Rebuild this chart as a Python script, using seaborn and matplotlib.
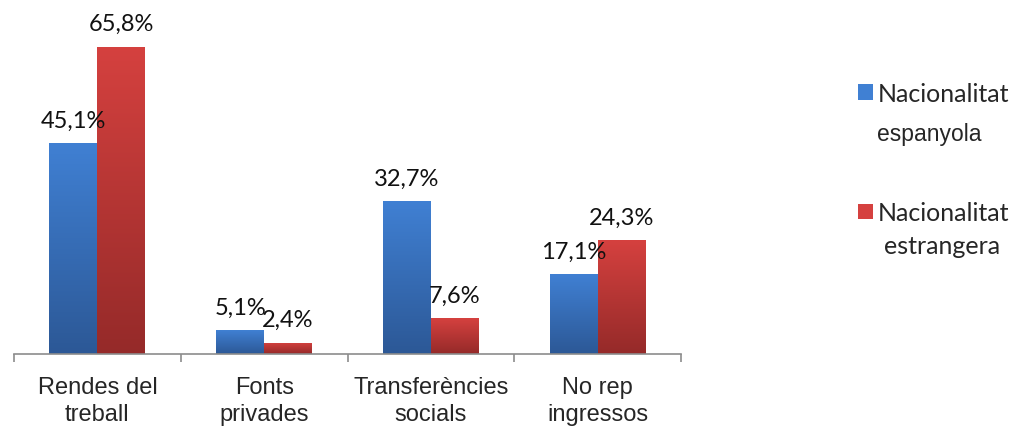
import numpy as np
import pandas as pd
import matplotlib
matplotlib.use('Agg')
import matplotlib.pyplot as plt
import seaborn as sns
from matplotlib.colors import LinearSegmentedColormap
from matplotlib.patches import Patch

# Data
categories = ['Rendes del\ntreball', 'Fonts\nprivades', 'Transferències\nsocials', 'No rep\ningressos']
series = ['Nacionalitat espanyola', 'Nacionalitat estrangera']
espanyola = [45.1, 5.1, 32.7, 17.1]
estrangera = [65.8, 2.4, 7.6, 24.3]
value_labels_esp = ['45,1%', '5,1%', '32,7%', '17,1%']
value_labels_est = ['65,8%', '2,4%', '7,6%', '24,3%']

df = pd.DataFrame({
    'categoria': categories * 2,
    'grup': [series[0]] * 4 + [series[1]] * 4,
    'valor': espanyola + estrangera,
    'etiqueta': value_labels_esp + value_labels_est,
})

sns.set_style('white')
plt.rcParams['font.family'] = ['Liberation Sans', 'DejaVu Sans']

fig = plt.figure(figsize=(10.21, 4.35), dpi=100)
ax = fig.add_axes([14 / 1021, 80 / 435, 667 / 1021, 327 / 435])

blue_top, blue_bot = '#4080d3', '#2c5896'
red_top, red_bot = '#d5413f', '#952a29'

sns.barplot(data=df, x='categoria', y='valor', hue='grup', order=categories,
            hue_order=series, palette=[blue_top, red_top], width=0.575,
            gap=0, legend=False, ax=ax, saturation=1)

# Gradient fill on each bar
cmaps = [LinearSegmentedColormap.from_list('b', [blue_bot, blue_top]),
         LinearSegmentedColormap.from_list('r', [red_bot, red_top])]
grad = np.linspace(0, 1, 256).reshape(-1, 1)
for i, bar in enumerate(ax.patches):
    x0, y0 = bar.get_x(), bar.get_y()
    w, h = bar.get_width(), bar.get_height()
    im = ax.imshow(grad, extent=[x0, x0 + w, y0, y0 + h], origin='lower',
                   cmap=cmaps[0] if i < 4 else cmaps[1], aspect='auto',
                   zorder=bar.get_zorder() + 0.1)
    im.set_clip_path(bar)
    bar.set_edgecolor('none')
ax.set_xlim(-0.5, 3.5)
ax.set_ylim(0, 70)

# Value labels
for i, bar in enumerate(ax.patches):
    lab = df['etiqueta'].iloc[i]
    ax.annotate(lab, (bar.get_x() + bar.get_width() / 2, bar.get_height()),
                xytext=(0, 9), textcoords='offset points', ha='center',
                va='bottom', fontsize=17, family=['Lato', 'DejaVu Sans'],
                color='#111111', zorder=5)

# Axes styling
for s in ['top', 'right', 'left']:
    ax.spines[s].set_visible(False)
ax.spines['bottom'].set_color('#8c8c8c')
ax.spines['bottom'].set_linewidth(1.2)
ax.set_yticks([])
ax.set_xticks(range(4))
ax.set_xticklabels(categories, fontsize=17, linespacing=1.3)
ax.tick_params(axis='x', which='major', length=0, pad=16)
ax.set_xticks([-0.5, 0.5, 1.5, 2.5, 3.5], minor=True)
ax.tick_params(axis='x', which='minor', bottom=True, length=6,
               color='#8c8c8c', width=1.2)
ax.set_xlabel('')
ax.set_ylabel('')

# Legend
handles = [Patch(facecolor=blue_top, edgecolor='none'),
           Patch(facecolor=red_top, edgecolor='none')]
leg = fig.legend(handles, ['Nacionalitat', 'Nacionalitat'], loc='upper left',
                 bbox_to_anchor=(858 / 1021, 1 - 83 / 435), frameon=False,
                 prop={'family': ['Lato', 'DejaVu Sans'], 'size': 18},
                 handlelength=0.6, handleheight=0.6, handletextpad=0.2,
                 labelspacing=3.85, borderaxespad=0, borderpad=0)
fig.text(877 / 1021, 1 - 134 / 435, 'espanyola', fontsize=16.5, va='center', ha='left')
fig.text(884 / 1021, 1 - 247 / 435, 'estrangera', fontsize=18, va='center', ha='left',
         family=['Lato', 'DejaVu Sans'])

fig.savefig('out.png', dpi=100)
